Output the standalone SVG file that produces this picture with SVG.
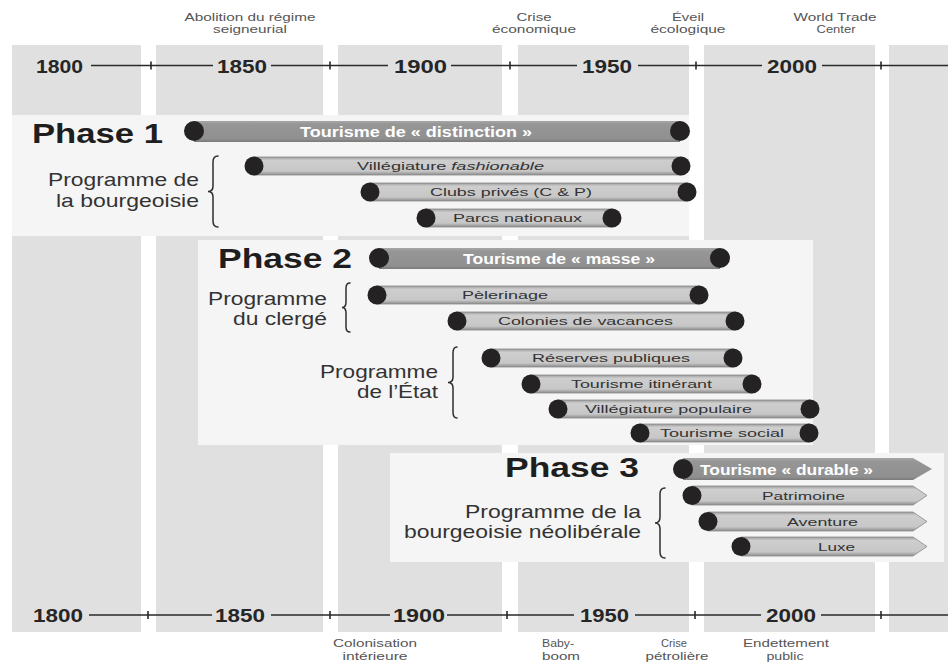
<svg xmlns="http://www.w3.org/2000/svg" width="948" height="662" viewBox="0 0 948 662">
  <style>
    text { font-family: "Liberation Sans", Arial, sans-serif; }
    .col { fill: #e0e0e0; }
    .panel { fill: #f5f5f5; }
    .axis { stroke: #2a2a2a; stroke-width: 1.6; fill: none; }
    .tick { stroke: #2a2a2a; stroke-width: 1.6; }
    .year { font-size: 17.5px; font-weight: bold; fill: #262626; }
    .ev { font-size: 10.5px; fill: #555; text-anchor: middle; }
    .phase { font-size: 28px; font-weight: bold; fill: #1e1e1e; }
    .prog { font-size: 18.5px; fill: #333; }
    .prog2 { font-size: 17.5px; fill: #333; }
    .main { fill: url(#gMain); }
    .sub { fill: url(#gSub); stroke: #8a8a8a; stroke-width: 0.8; }
    .dot { fill: #242223; }
    .ml { font-size: 15px; font-weight: bold; fill: #fff; }
    .sl { font-size: 11px; fill: #333; }
    .brace { fill: none; stroke: #2e2e2e; stroke-width: 1.5; stroke-linecap: round; }
  </style>
  <defs>
    <linearGradient id="gSub" x1="0" y1="0" x2="0" y2="1">
      <stop offset="0" stop-color="#9a9a9a"/>
      <stop offset="0.18" stop-color="#cecece"/>
      <stop offset="0.78" stop-color="#c7c7c7"/>
      <stop offset="1" stop-color="#8c8c8c"/>
    </linearGradient>
    <linearGradient id="gMain" x1="0" y1="0" x2="0" y2="1">
      <stop offset="0" stop-color="#a6a6a6"/>
      <stop offset="0.15" stop-color="#969696"/>
      <stop offset="0.85" stop-color="#909090"/>
      <stop offset="1" stop-color="#7a7a7a"/>
    </linearGradient>
  </defs>

  <rect width="948" height="662" fill="#ffffff"/>

  <!-- half-century background columns -->
  <g id="columns">
    <rect class="col" x="12" y="45" width="129" height="587"/>
    <rect class="col" x="156" y="45" width="167" height="587"/>
    <rect class="col" x="338" y="45" width="164" height="587"/>
    <rect class="col" x="518" y="45" width="171" height="587"/>
    <rect class="col" x="704" y="45" width="171" height="587"/>
    <rect class="col" x="889" y="45" width="59" height="587"/>
  </g>

  <!-- phase panels -->
  <g id="panels">
    <rect class="panel" x="12" y="115" width="677" height="121"/>
    <rect class="panel" x="198" y="240" width="615" height="205"/>
    <rect class="panel" x="390" y="453" width="554" height="109"/>
  </g>

  <!-- top time axis -->
  <g id="axis-top">
    <path class="axis" d="M91 65.5H213M271 65.5H388M451 65.5H577M638 65.5H762M822 65.5H948"/>
    <path class="tick" d="M151 61.5V69.5M330 61.5V69.5M510 61.5V69.5M696 61.5V69.5M881 61.5V69.5"/>
    <text class="year" x="36" y="72.5" textLength="47" lengthAdjust="spacingAndGlyphs">1800</text>
    <text class="year" x="217" y="72.5" textLength="50" lengthAdjust="spacingAndGlyphs">1850</text>
    <text class="year" x="394" y="72.5" textLength="53" lengthAdjust="spacingAndGlyphs">1900</text>
    <text class="year" x="582" y="72.5" textLength="50" lengthAdjust="spacingAndGlyphs">1950</text>
    <text class="year" x="767" y="72.5" textLength="50" lengthAdjust="spacingAndGlyphs">2000</text>
  </g>

  <!-- events above -->
  <g id="events-top">
    <text class="ev" x="250" y="21" textLength="131" lengthAdjust="spacingAndGlyphs">Abolition du régime</text>
    <text class="ev" x="250" y="33" textLength="74" lengthAdjust="spacingAndGlyphs">seigneurial</text>
    <text class="ev" x="534" y="21" textLength="35" lengthAdjust="spacingAndGlyphs">Crise</text>
    <text class="ev" x="534" y="33" textLength="84" lengthAdjust="spacingAndGlyphs">économique</text>
    <text class="ev" x="688" y="21" textLength="32" lengthAdjust="spacingAndGlyphs">Éveil</text>
    <text class="ev" x="688" y="33" textLength="75" lengthAdjust="spacingAndGlyphs">écologique</text>
    <text class="ev" x="835" y="21" textLength="83" lengthAdjust="spacingAndGlyphs">World Trade</text>
    <text class="ev" x="836" y="33" textLength="39" lengthAdjust="spacingAndGlyphs">Center</text>
  </g>

  <!-- bottom time axis -->
  <g id="axis-bottom">
    <path class="axis" d="M89 615H212M271 615H390M447 615H574M635 615H761M821 615H948"/>
    <path class="tick" d="M148 611V619M330 611V619M507 611V619M695 611V619M881 611V619"/>
    <text class="year" x="33" y="621.5" textLength="50" lengthAdjust="spacingAndGlyphs">1800</text>
    <text class="year" x="215" y="621.5" textLength="50" lengthAdjust="spacingAndGlyphs">1850</text>
    <text class="year" x="393" y="621.5" textLength="52" lengthAdjust="spacingAndGlyphs">1900</text>
    <text class="year" x="580" y="621.5" textLength="49" lengthAdjust="spacingAndGlyphs">1950</text>
    <text class="year" x="766" y="621.5" textLength="50" lengthAdjust="spacingAndGlyphs">2000</text>
  </g>

  <!-- events below -->
  <g id="events-bottom">
    <text class="ev" x="375" y="647" textLength="84" lengthAdjust="spacingAndGlyphs">Colonisation</text>
    <text class="ev" x="375" y="659.5" textLength="65" lengthAdjust="spacingAndGlyphs">intérieure</text>
    <text class="ev" x="558" y="647" textLength="32" lengthAdjust="spacingAndGlyphs">Baby-</text>
    <text class="ev" x="561" y="659.5" textLength="38" lengthAdjust="spacingAndGlyphs">boom</text>
    <text class="ev" x="674" y="647" textLength="26" lengthAdjust="spacingAndGlyphs">Crise</text>
    <text class="ev" x="677" y="659.5" textLength="63" lengthAdjust="spacingAndGlyphs">pétrolière</text>
    <text class="ev" x="786" y="647" textLength="86" lengthAdjust="spacingAndGlyphs">Endettement</text>
    <text class="ev" x="785" y="660" textLength="37" lengthAdjust="spacingAndGlyphs">public</text>
  </g>

  <!-- Phase 1 -->
  <g id="phase1-title">
    <text class="phase" x="32" y="143" textLength="131" lengthAdjust="spacingAndGlyphs">Phase 1</text>
  </g>
  <g id="tourisme-distinction">
    <rect class="main" x="194" y="121" width="486" height="21"/>
    <circle class="dot" cx="194" cy="131" r="10"/>
    <circle class="dot" cx="680" cy="131" r="10"/>
    <text class="ml" x="300" y="137" textLength="232" lengthAdjust="spacingAndGlyphs">Tourisme de « distinction »</text>
  </g>
  <g id="programme-bourgeoisie">
    <text class="prog" x="48" y="186" textLength="151" lengthAdjust="spacingAndGlyphs">Programme de</text>
    <text class="prog" x="56" y="207" textLength="143" lengthAdjust="spacingAndGlyphs">la bourgeoisie</text>
    <path class="brace" d="M218 156Q213 156 213 162V186Q213 191.5 208 191.5Q213 191.5 213 197V221Q213 227 218 227"/>
  </g>
  <g id="villegiature-fashionable">
    <rect class="sub" x="254" y="157" width="427" height="18"/>
    <circle class="dot" cx="254" cy="166" r="9.5"/>
    <circle class="dot" cx="681" cy="166" r="9.5"/>
    <text class="sl" x="357" y="170" textLength="187" lengthAdjust="spacingAndGlyphs">Villégiature <tspan font-style="italic">fashionable</tspan></text>
  </g>
  <g id="clubs-prives">
    <rect class="sub" x="370" y="183" width="317" height="18"/>
    <circle class="dot" cx="370" cy="192" r="9.5"/>
    <circle class="dot" cx="687" cy="192" r="9.5"/>
    <text class="sl" x="430" y="196" textLength="162" lengthAdjust="spacingAndGlyphs">Clubs privés (C &amp; P)</text>
  </g>
  <g id="parcs-nationaux">
    <rect class="sub" x="426" y="209" width="186" height="18"/>
    <circle class="dot" cx="426" cy="218" r="9.5"/>
    <circle class="dot" cx="612" cy="218" r="9.5"/>
    <text class="sl" x="453" y="222" textLength="129" lengthAdjust="spacingAndGlyphs">Parcs nationaux</text>
  </g>

  <!-- Phase 2 -->
  <g id="phase2-title">
    <text class="phase" x="218" y="268" textLength="134" lengthAdjust="spacingAndGlyphs">Phase 2</text>
  </g>
  <g id="tourisme-masse">
    <rect class="main" x="379" y="248" width="341" height="21"/>
    <circle class="dot" cx="379" cy="258" r="10"/>
    <circle class="dot" cx="720" cy="258" r="10"/>
    <text class="ml" x="463" y="264" textLength="192" lengthAdjust="spacingAndGlyphs">Tourisme de « masse »</text>
  </g>
  <g id="programme-clerge">
    <text class="prog2" x="208" y="305" textLength="119" lengthAdjust="spacingAndGlyphs">Programme</text>
    <text class="prog2" x="233" y="325" textLength="94" lengthAdjust="spacingAndGlyphs">du clergé</text>
    <path class="brace" d="M350 283Q346 283 346 288V302Q346 307.5 342 307.5Q346 307.5 346 313V327Q346 332 350 332"/>
  </g>
  <g id="pelerinage">
    <rect class="sub" x="377" y="286" width="322" height="18"/>
    <circle class="dot" cx="377" cy="295" r="9.5"/>
    <circle class="dot" cx="699" cy="295" r="9.5"/>
    <text class="sl" x="462" y="299" textLength="86" lengthAdjust="spacingAndGlyphs">Pèlerinage</text>
  </g>
  <g id="colonies-vacances">
    <rect class="sub" x="457" y="312" width="278" height="18"/>
    <circle class="dot" cx="457" cy="321" r="9.5"/>
    <circle class="dot" cx="735" cy="321" r="9.5"/>
    <text class="sl" x="498" y="325" textLength="175" lengthAdjust="spacingAndGlyphs">Colonies de vacances</text>
  </g>
  <g id="programme-etat">
    <text class="prog" x="320" y="378" textLength="118" lengthAdjust="spacingAndGlyphs">Programme</text>
    <text class="prog" x="357" y="398" textLength="81" lengthAdjust="spacingAndGlyphs">de l’État</text>
    <path class="brace" d="M457 347Q453 347 453 353V377Q453 382.5 448 382.5Q453 382.5 453 388V412Q453 418 457 418"/>
  </g>
  <g id="reserves-publiques">
    <rect class="sub" x="491" y="349" width="242" height="18"/>
    <circle class="dot" cx="491" cy="358" r="9.5"/>
    <circle class="dot" cx="733" cy="358" r="9.5"/>
    <text class="sl" x="532" y="362" textLength="158" lengthAdjust="spacingAndGlyphs">Réserves publiques</text>
  </g>
  <g id="tourisme-itinerant">
    <rect class="sub" x="531" y="375" width="221" height="18"/>
    <circle class="dot" cx="531" cy="384" r="9.5"/>
    <circle class="dot" cx="752" cy="384" r="9.5"/>
    <text class="sl" x="571" y="388" textLength="141" lengthAdjust="spacingAndGlyphs">Tourisme itinérant</text>
  </g>
  <g id="villegiature-populaire">
    <rect class="sub" x="558" y="400" width="252" height="18"/>
    <circle class="dot" cx="558" cy="409" r="9.5"/>
    <circle class="dot" cx="810" cy="409" r="9.5"/>
    <text class="sl" x="585" y="413" textLength="167" lengthAdjust="spacingAndGlyphs">Villégiature populaire</text>
  </g>
  <g id="tourisme-social">
    <rect class="sub" x="640" y="424" width="169" height="18"/>
    <circle class="dot" cx="640" cy="433" r="9.5"/>
    <circle class="dot" cx="809" cy="433" r="9.5"/>
    <text class="sl" x="660" y="437" textLength="124" lengthAdjust="spacingAndGlyphs">Tourisme social</text>
  </g>

  <!-- Phase 3 -->
  <g id="phase3-title">
    <text class="phase" x="505" y="477" textLength="134" lengthAdjust="spacingAndGlyphs">Phase 3</text>
  </g>
  <g id="tourisme-durable">
    <path class="main" d="M683 458H913L932 469L913 480H683Z"/>
    <circle class="dot" cx="683" cy="469" r="10"/>
    <text class="ml" x="700" y="475" textLength="173" lengthAdjust="spacingAndGlyphs">Tourisme « durable »</text>
  </g>
  <g id="programme-neoliberal">
    <text class="prog" x="465" y="518" textLength="176" lengthAdjust="spacingAndGlyphs">Programme de la</text>
    <text class="prog" x="404" y="538" textLength="237" lengthAdjust="spacingAndGlyphs">bourgeoisie néolibérale</text>
    <path class="brace" d="M665 488Q660 488 660 494V517Q660 523 655 523Q660 523 660 529V552Q660 558 665 558"/>
  </g>
  <g id="patrimoine">
    <path class="sub" d="M692 486H913L927 495.5L913 505H692Z"/>
    <circle class="dot" cx="692" cy="495.5" r="9.5"/>
    <text class="sl" x="762" y="499.5" textLength="83" lengthAdjust="spacingAndGlyphs">Patrimoine</text>
  </g>
  <g id="aventure">
    <path class="sub" d="M708 512H913L927 521.5L913 531H708Z"/>
    <circle class="dot" cx="708" cy="521.5" r="9.5"/>
    <text class="sl" x="787" y="525.5" textLength="71" lengthAdjust="spacingAndGlyphs">Aventure</text>
  </g>
  <g id="luxe">
    <path class="sub" d="M741 537H913L927 546.5L913 556H741Z"/>
    <circle class="dot" cx="741" cy="546.5" r="9.5"/>
    <text class="sl" x="818" y="550.5" textLength="37" lengthAdjust="spacingAndGlyphs">Luxe</text>
  </g>
</svg>
